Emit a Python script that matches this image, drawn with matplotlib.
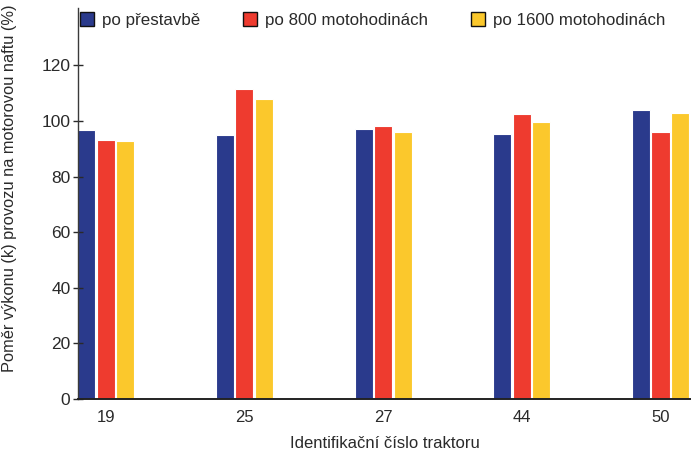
import numpy as np
import matplotlib
matplotlib.use("Agg")
import matplotlib.pyplot as plt

plt.rcParams['font.family'] = ['Liberation Sans', 'DejaVu Sans']

tractors = ['19', '25', '27', '44', '50']
series_names = ['po přestavbě', 'po 800 motohodinách', 'po 1600 motohodinách']
po_prestavbe = [96.8, 95.0, 97.0, 95.3, 104.0]
po_800 = [93.2, 111.5, 98.3, 102.4, 96.2]
po_1600 = [92.9, 108.0, 96.2, 99.8, 102.8]
yticks = [0, 20, 40, 60, 80, 100, 120]

colors = ['#2a3a8c', '#ee3b2f', '#fbc82c']
text_col = '#2a2a2a'

fig = plt.figure(figsize=(6.91, 4.54), dpi=100)
ax = fig.add_axes([0.113, 0.121, 0.887, 0.861])

x = np.arange(len(tractors))
w = 0.13
step = 0.14
for i, (vals, name) in enumerate(zip([po_prestavbe, po_800, po_1600], series_names)):
    ax.bar(x + (i - 1) * step, vals, width=w, color=colors[i],
           edgecolor='white', linewidth=0.8, label=name)

ax.set_xlim(-0.2, 4.22)
ax.set_ylim(0, 140.6)
ax.set_yticks(yticks)
ax.set_xticks(x)
ax.set_xticklabels(tractors)
ax.tick_params(axis='y', direction='inout', length=7, width=1,
               labelsize=12.5, colors=text_col, pad=2)
ax.tick_params(axis='x', length=0, labelsize=12, colors=text_col, pad=8)

for s in ['top', 'right']:
    ax.spines[s].set_visible(False)
ax.spines['left'].set_color('#3a3a3a')
ax.spines['left'].set_linewidth(1.0)
ax.spines['bottom'].set_color('#222222')
ax.spines['bottom'].set_linewidth(1.4)

ax.set_ylabel('Poměr výkonu (k) provozu na motorovou naftu (%)',
              fontsize=11.8, color=text_col)
ax.yaxis.set_label_coords(-0.1, 0.54)
ax.set_xlabel('Identifikační číslo traktoru', fontsize=12,
              color=text_col, labelpad=8)

leg = ax.legend(loc='center left', bbox_to_anchor=(0.003, 0.969), ncol=3,
                frameon=False, fontsize=12.2, handlelength=0.85,
                handleheight=0.85, handletextpad=0.47, columnspacing=2.5,
                borderpad=0, borderaxespad=0)
for h in leg.legend_handles:
    h.set_edgecolor('#111111')
    h.set_linewidth(1.0)
for t in leg.get_texts():
    t.set_color(text_col)

fig.savefig('out.png', dpi=100)
